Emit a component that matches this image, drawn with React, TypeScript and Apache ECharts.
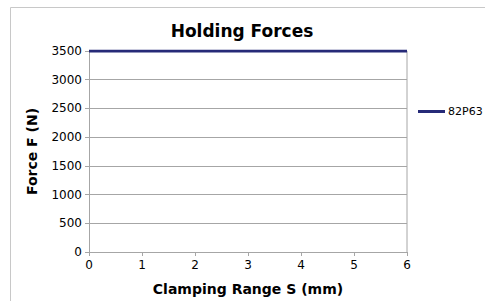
import React, { useEffect, useRef } from "react";
import * as echarts from "echarts";

const xValues = [0, 1, 2, 3, 4, 5, 6];
const forces82P63 = [3500, 3500, 3500, 3500, 3500, 3500, 3500];
const seriesName = "82P63";
const titleText = "Holding Forces";
const xName = "Clamping Range S (mm)";
const yName = "Force F (N)";

export default function App() {
  const ref = useRef<HTMLDivElement>(null);
  useEffect(() => {
    if (!ref.current) return;
    const chart = echarts.init(ref.current, undefined, { renderer: "svg" });
    const font = "DejaVu Sans";
    chart.setOption({
      animation: false,
      textStyle: { fontFamily: font },
      title: {
        text: titleText,
        left: 237,
        textAlign: "center",
        top: 17,
        textStyle: { fontSize: 17, fontWeight: "bold", color: "#000", fontFamily: font },
      },
      graphic: [
        {
          type: "rect",
          shape: { x: 10.5, y: 7.5, width: 600, height: 400 },
          style: { fill: "none", stroke: "#c8c8c8", lineWidth: 1 },
          silent: true,
        },
      ],
      legend: {
        left: 413,
        top: 101,
        itemWidth: 27,
        itemHeight: 3,
        itemGap: 4,
        icon: "rect",
        data: [seriesName],
        textStyle: { fontSize: 11, color: "#000", fontFamily: font, padding: [0, 0, 0, -2] },
      },
      grid: { left: 89, right: 78, top: 51, bottom: 47, show: false },
      xAxis: {
        type: "value",
        min: 0,
        max: 6,
        interval: 1,
        name: xName,
        nameLocation: "middle",
        nameGap: 30,
        nameTextStyle: { fontSize: 14, fontWeight: "bold", color: "#000", fontFamily: font },
        axisLine: { show: true, lineStyle: { color: "#a6a6a6" } },
        axisTick: { show: true, length: 4, lineStyle: { color: "#a6a6a6" } },
        axisLabel: { fontSize: 12, color: "#000", margin: 7 },
        splitLine: { show: false },
      },
      yAxis: {
        type: "value",
        min: 0,
        max: 3500,
        interval: 500,
        name: yName,
        nameLocation: "middle",
        nameGap: 50,
        nameTextStyle: { fontSize: 14, fontWeight: "bold", color: "#000", fontFamily: font },
        axisLine: { show: true, lineStyle: { color: "#a6a6a6" } },
        axisTick: { show: true, length: 4, lineStyle: { color: "#a6a6a6" } },
        axisLabel: { fontSize: 12, color: "#000", margin: 7, formatter: (v: number) => String(v) },
        splitLine: { show: true, lineStyle: { color: "#a6a6a6" } },
      },
      series: [
        {
          name: seriesName,
          type: "line",
          data: xValues.map((x, i) => [x, forces82P63[i]]),
          showSymbol: false,
          symbol: "none",
          lineStyle: { color: "#262a78", width: 3 },
          itemStyle: { color: "#262a78" },
          z: 3,
        },
        {
          type: "line",
          data: [[6, 0], [6, 3500]],
          showSymbol: false,
          symbol: "none",
          silent: true,
          lineStyle: { color: "#a6a6a6", width: 1 },
          z: 1,
        },
      ],
    });
    return () => chart.dispose();
  }, []);
  return (
    <div
      ref={ref}
      style={{ position: "absolute", left: 0, top: 0, width: 485, height: 301 }}
    />
  );
}
